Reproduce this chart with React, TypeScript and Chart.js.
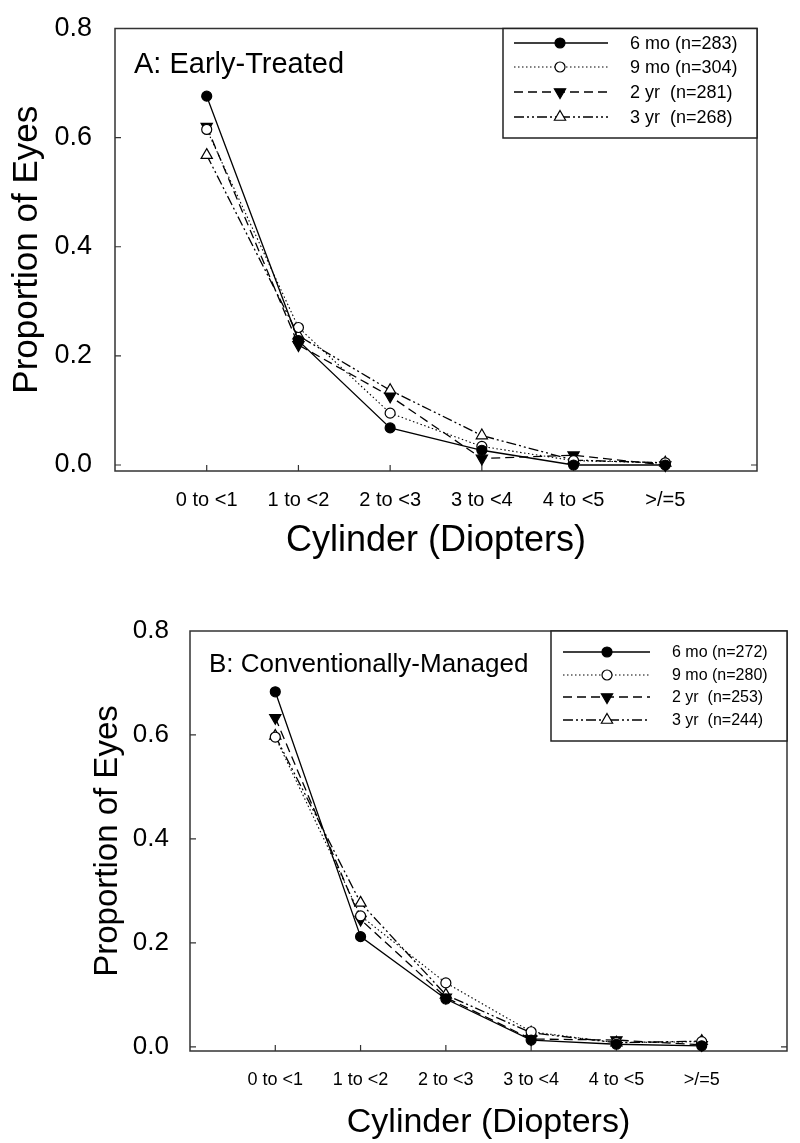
import React, { useEffect, useRef } from 'react';
import { Chart, registerables } from 'chart.js';

Chart.register(...registerables);

// ---------- data ----------
const categories = ['0 to <1', '1 to <2', '2 to <3', '3 to <4', '4 to <5', '>/=5'];
const yTickValues = [0, 0.2, 0.4, 0.6, 0.8];

const labelsA = ['6 mo (n=283)', '9 mo (n=304)', '2 yr  (n=281)', '3 yr  (n=268)'];
const labelsB = ['6 mo (n=272)', '9 mo (n=280)', '2 yr  (n=253)', '3 yr  (n=244)'];

const a6mo = [0.676, 0.228, 0.068, 0.027, 0.0, 0.0];
const a9mo = [0.615, 0.252, 0.095, 0.034, 0.008, 0.004];
const a2yr = [0.62, 0.22, 0.126, 0.012, 0.018, 0.0];
const a3yr = [0.568, 0.237, 0.137, 0.054, 0.009, 0.004];

const b6mo = [0.683, 0.212, 0.092, 0.013, 0.005, 0.002];
const b9mo = [0.596, 0.252, 0.123, 0.029, 0.008, 0.01];
const b2yr = [0.633, 0.245, 0.095, 0.015, 0.013, 0.004];
const b3yr = [0.598, 0.277, 0.1, 0.027, 0.008, 0.011];

// ---------- styles ----------
const seriesStyles = [
  { dash: [] as number[], width: 1.3, pointStyle: 'circle', fill: '#000000', radius: 5, rotation: 0 },
  { dash: [1.5, 2.5], width: 1.1, pointStyle: 'circle', fill: '#ffffff', radius: 5, rotation: 0 },
  { dash: [9, 5], width: 1.3, pointStyle: 'triangle', fill: '#000000', radius: 6.5, rotation: 180 },
  { dash: [10, 3, 2, 3, 2, 3], width: 1.3, pointStyle: 'triangle', fill: '#ffffff', radius: 6.5, rotation: 0 },
];

const SANS = '"Liberation Sans", Arial, Helvetica, sans-serif';

interface PanelCfg {
  title: string;
  titleSize: number;
  titleDx: number;
  titleBaseline: number;
  labels: string[];
  data: number[][];
  top: number;
  height: number;
  padRight: number;
  padTop: number;
  yWidth: number;
  xHeight: number;
  yMin: number;
  yTickSize: number;
  yTickPad: number;
  yTitleSize: number;
  yTitlePad: number;
  xTickSize: number;
  xTickPad: number;
  xTitleSize: number;
  xTitlePad: number;
  legend: {
    left: number;
    bottom: number;
    rows: number[];
    lineX0: number;
    lineX1: number;
    markX: number;
    textX: number;
    fontSize: number;
  };
}

const panelA: PanelCfg = {
  title: 'A: Early-Treated',
  titleSize: 29,
  titleDx: 19,
  titleBaseline: 44,
  labels: labelsA,
  data: [a6mo, a9mo, a2yr, a3yr],
  top: 0,
  height: 590,
  padRight: 43,
  padTop: 21,
  yWidth: 115,
  xHeight: 119,
  yMin: -0.011,
  yTickSize: 27,
  yTickPad: 15,
  yTitleSize: 35,
  yTitlePad: 9.5,
  xTickSize: 20,
  xTickPad: 11,
  xTitleSize: 36,
  xTitlePad: 31,
  legend: {
    left: 503,
    bottom: 138,
    rows: [43, 67, 92, 117],
    lineX0: 514,
    lineX1: 608,
    markX: 560,
    textX: 630,
    fontSize: 18,
  },
};

const panelB: PanelCfg = {
  title: 'B: Conventionally-Managed',
  titleSize: 26,
  titleDx: 19,
  titleBaseline: 41,
  labels: labelsB,
  data: [b6mo, b9mo, b2yr, b3yr],
  top: 580,
  height: 563,
  padRight: 13,
  padTop: 51,
  yWidth: 190,
  xHeight: 92,
  yMin: -0.008,
  yTickSize: 26,
  yTickPad: 13,
  yTitleSize: 33,
  yTitlePad: 91,
  xTickSize: 18,
  xTickPad: 12,
  xTitleSize: 34,
  xTitlePad: 3,
  legend: {
    left: 551,
    bottom: 741 - 580,
    rows: [652 - 580, 675 - 580, 697 - 580, 720 - 580],
    lineX0: 563,
    lineX1: 650,
    markX: 607,
    textX: 672,
    fontSize: 16,
  },
};

function drawMarker(ctx: CanvasRenderingContext2D, st: typeof seriesStyles[number], x: number, y: number) {
  ctx.save();
  ctx.setLineDash([]);
  ctx.lineWidth = 1.2;
  ctx.strokeStyle = '#000';
  ctx.fillStyle = st.fill;
  ctx.beginPath();
  if (st.pointStyle === 'circle') {
    ctx.arc(x, y, st.radius, 0, Math.PI * 2);
  } else {
    const r = st.radius;
    const rot = (st.rotation * Math.PI) / 180;
    for (let k = 0; k < 3; k++) {
      const a = rot + (k * 2 * Math.PI) / 3;
      const px = x + Math.sin(a) * r;
      const py = y - Math.cos(a) * r;
      if (k === 0) ctx.moveTo(px, py);
      else ctx.lineTo(px, py);
    }
    ctx.closePath();
  }
  ctx.fill();
  ctx.stroke();
  ctx.restore();
}

function makePlugin(p: PanelCfg) {
  return {
    id: 'frameAndLegend',
    beforeDatasetsDraw(chart: any) {
      const { ctx, chartArea: ca, scales } = chart;
      ctx.save();
      ctx.strokeStyle = '#333333';
      ctx.lineWidth = 1.5;
      ctx.strokeRect(ca.left, ca.top, ca.right - ca.left, ca.bottom - ca.top);
      ctx.lineWidth = 1.2;
      ctx.beginPath();
      categories.forEach((_, i) => {
        const x = scales.x.getPixelForValue(i);
        ctx.moveTo(x, ca.bottom);
        ctx.lineTo(x, ca.bottom - 6);
      });
      yTickValues.forEach((v) => {
        if (v >= 0.8) return;
        const y = scales.y.getPixelForValue(v);
        ctx.moveTo(ca.left, y);
        ctx.lineTo(ca.left + 6, y);
      });
      const y0 = scales.y.getPixelForValue(0);
      ctx.moveTo(ca.right, y0);
      ctx.lineTo(ca.right - 6, y0);
      ctx.stroke();
      ctx.restore();
    },
    afterDatasetsDraw(chart: any) {
      const { ctx, chartArea: ca } = chart;
      ctx.save();
      // panel title
      ctx.fillStyle = '#000';
      ctx.font = `${p.titleSize}px ${SANS}`;
      ctx.textAlign = 'left';
      ctx.textBaseline = 'alphabetic';
      ctx.fillText(p.title, ca.left + p.titleDx, ca.top + p.titleBaseline);

      // legend
      const lg = p.legend;
      ctx.fillStyle = '#ffffff';
      ctx.fillRect(lg.left, ca.top, ca.right - lg.left, lg.bottom - ca.top);
      ctx.strokeStyle = '#222';
      ctx.lineWidth = 1.5;
      ctx.strokeRect(lg.left, ca.top, ca.right - lg.left, lg.bottom - ca.top);
      p.labels.forEach((lab, i) => {
        const st = seriesStyles[i];
        const y = lg.rows[i];
        ctx.save();
        ctx.strokeStyle = '#000';
        ctx.lineWidth = st.width;
        ctx.setLineDash(st.dash);
        ctx.beginPath();
        ctx.moveTo(lg.lineX0, y);
        ctx.lineTo(lg.lineX1, y);
        ctx.stroke();
        ctx.restore();
        drawMarker(ctx, st, lg.markX, y);
        ctx.fillStyle = '#000';
        ctx.font = `${lg.fontSize}px ${SANS}`;
        ctx.textAlign = 'left';
        ctx.textBaseline = 'middle';
        ctx.fillText(lab, lg.textX, y + 1);
      });
      ctx.restore();
    },
  };
}

function Panel({ cfg }: { cfg: PanelCfg }) {
  const ref = useRef<HTMLCanvasElement | null>(null);
  useEffect(() => {
    if (!ref.current) return;
    const datasets = cfg.data.map((vals, i) => {
      const st = seriesStyles[i];
      return {
        label: cfg.labels[i],
        data: vals.map((v, k) => ({ x: k, y: v })),
        borderColor: '#000000',
        borderWidth: st.width,
        borderDash: st.dash,
        backgroundColor: st.fill,
        pointStyle: st.pointStyle as any,
        pointRadius: st.radius,
        pointRotation: st.rotation,
        pointBackgroundColor: st.fill,
        pointBorderColor: '#000000',
        pointBorderWidth: 1.2,
        tension: 0,
        fill: false,
        clip: false as any,
      };
    });
    const chart = new Chart(ref.current, {
      type: 'line',
      data: { datasets },
      options: {
        animation: false,
        responsive: false,
        maintainAspectRatio: false,
        layout: { padding: { left: 0, right: cfg.padRight, top: cfg.padTop, bottom: 0 } },
        plugins: { legend: { display: false }, tooltip: { enabled: false }, title: { display: false } },
        scales: {
          x: {
            type: 'linear',
            min: -1,
            max: 6,
            grid: { display: false },
            border: { display: false },
            afterBuildTicks: (s: any) => {
              s.ticks = categories.map((_, i) => ({ value: i }));
            },
            afterFit: (s: any) => {
              s.height = cfg.xHeight;
            },
            ticks: {
              autoSkip: false,
              maxRotation: 0,
              color: '#000',
              padding: cfg.xTickPad,
              font: { family: SANS, size: cfg.xTickSize, lineHeight: 1 },
              callback: (v: any) => categories[Number(v)] ?? '',
            },
            title: {
              display: true,
              text: 'Cylinder (Diopters)',
              color: '#000',
              font: { family: SANS, size: cfg.xTitleSize, lineHeight: 1 },
              padding: { top: 0, bottom: cfg.xTitlePad },
            },
          },
          y: {
            type: 'linear',
            min: cfg.yMin,
            max: 0.8,
            grid: { display: false },
            border: { display: false },
            afterBuildTicks: (s: any) => {
              s.ticks = yTickValues.map((v) => ({ value: v }));
            },
            afterFit: (s: any) => {
              s.width = cfg.yWidth;
            },
            ticks: {
              color: '#000',
              padding: cfg.yTickPad,
              font: { family: SANS, size: cfg.yTickSize, lineHeight: 1 },
              callback: (v: any) => Number(v).toFixed(1),
            },
            title: {
              display: true,
              text: 'Proportion of Eyes',
              color: '#000',
              font: { family: SANS, size: cfg.yTitleSize, lineHeight: 1 },
              padding: { top: cfg.yTitlePad, bottom: 0 },
            },
          },
        },
      } as any,
      plugins: [makePlugin(cfg)],
    });
    return () => chart.destroy();
  }, [cfg]);
  return (
    <canvas
      ref={ref}
      width={800}
      height={cfg.height}
      style={{ position: 'absolute', left: 0, top: cfg.top, width: 800, height: cfg.height }}
    />
  );
}

export default function App() {
  return (
    <div style={{ position: 'absolute', left: 0, top: 0, width: 800, height: 1143, background: '#fff' }}>
      <Panel cfg={panelA} />
      <Panel cfg={panelB} />
    </div>
  );
}
